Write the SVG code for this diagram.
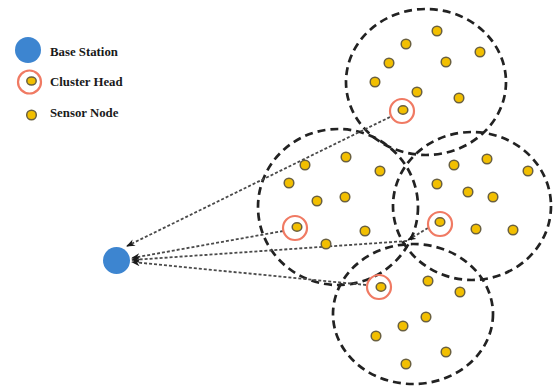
<svg xmlns="http://www.w3.org/2000/svg" width="559" height="390" viewBox="0 0 559 390">
  <defs>
    <marker id="arrow" viewBox="0 0 10 8" refX="9" refY="4" markerWidth="9" markerHeight="7" orient="auto" markerUnits="userSpaceOnUse">
      <path d="M0,0 L10,4 L0,8 L3,4 z" fill="#1a1a1a"/>
    </marker>
  </defs>
  <style>
    .cluster { fill: none; stroke: #222; stroke-width: 2.7; stroke-dasharray: 8 5; }
    .link { fill: none; stroke: #4a4a4a; stroke-width: 1.8; stroke-dasharray: 3 2; marker-end: url(#arrow); }
    .sensor { fill: #f2bf00; stroke: #6a6040; stroke-width: 1.5; }
    .ring { fill: none; stroke: #f07a63; stroke-width: 2.2; }
    .base { fill: #3d85d0; }
    .label { font-family: "Liberation Serif", "Times New Roman", serif; font-weight: bold; font-size: 12.8px; fill: #1a1a1a; }
  </style>

  <rect width="559" height="390" fill="#ffffff"/>

  <!-- legend -->
  <g id="legend">
    <circle class="base" cx="28" cy="50" r="13"/>
    <text class="label" x="50" y="56">Base Station</text>
    <circle class="ring" cx="29.5" cy="82" r="11.5"/>
    <ellipse class="sensor" cx="31.5" cy="81" rx="4.7" ry="4"/>
    <text class="label" x="50" y="86">Cluster Head</text>
    <circle class="sensor" cx="31.5" cy="115" r="4.8"/>
    <text class="label" x="50" y="117">Sensor Node</text>
  </g>

  <!-- cluster boundaries -->
  <g id="clusters">
    <ellipse id="cluster-top" class="cluster" cx="426" cy="82" rx="80" ry="73"/>
    <ellipse id="cluster-left" class="cluster" cx="338" cy="207" rx="80" ry="78"/>
    <ellipse id="cluster-right" class="cluster" cx="472" cy="206" rx="79" ry="74"/>
    <ellipse id="cluster-bottom" class="cluster" cx="413" cy="314" rx="80" ry="70"/>
  </g>

  <!-- links from cluster heads to the base station -->
  <g id="connectors">
    <path class="link" d="M390,117 L127,246"/>
    <path class="link" d="M283,231 L132,258"/>
    <path class="link" d="M428,228 L408,240"/>
    <path class="link" d="M407,241 L132,260"/>
    <path class="link" d="M366,285 L132,262"/>
  </g>

  <!-- base station -->
  <g id="base-station">
    <circle class="base" cx="116.5" cy="260.5" r="13.5"/>
  </g>

  <!-- cluster heads -->
  <g id="head-top">
    <circle class="ring" cx="402" cy="111" r="12"/>
    <ellipse class="sensor" cx="403" cy="110" rx="4.8" ry="4.2"/>
  </g>
  <g id="head-left">
    <circle class="ring" cx="295" cy="228" r="12"/>
    <ellipse class="sensor" cx="297" cy="227" rx="4.8" ry="4.2"/>
  </g>
  <g id="head-right">
    <circle class="ring" cx="440" cy="224" r="12"/>
    <ellipse class="sensor" cx="440" cy="222" rx="4.8" ry="4.2"/>
  </g>
  <g id="head-bottom">
    <circle class="ring" cx="379" cy="287" r="12"/>
    <ellipse class="sensor" cx="381" cy="287" rx="4.8" ry="4.2"/>
  </g>

  <!-- sensor nodes -->
  <g id="sensors-top">
    <circle class="sensor" cx="437" cy="31" r="4.8"/>
    <circle class="sensor" cx="406" cy="44" r="4.8"/>
    <circle class="sensor" cx="480" cy="52" r="4.8"/>
    <circle class="sensor" cx="389" cy="63" r="4.8"/>
    <circle class="sensor" cx="446" cy="62" r="4.8"/>
    <circle class="sensor" cx="375" cy="82" r="4.8"/>
    <circle class="sensor" cx="417" cy="92" r="4.8"/>
    <circle class="sensor" cx="459" cy="98" r="4.8"/>
  </g>
  <g id="sensors-left">
    <circle class="sensor" cx="346" cy="157" r="4.8"/>
    <circle class="sensor" cx="305" cy="165" r="4.8"/>
    <circle class="sensor" cx="380" cy="171" r="4.8"/>
    <circle class="sensor" cx="289" cy="183" r="4.8"/>
    <circle class="sensor" cx="317" cy="201" r="4.8"/>
    <circle class="sensor" cx="345" cy="197" r="4.8"/>
    <circle class="sensor" cx="365" cy="231" r="4.8"/>
    <circle class="sensor" cx="326" cy="244" r="4.8"/>
  </g>
  <g id="sensors-right">
    <circle class="sensor" cx="487" cy="159" r="4.8"/>
    <circle class="sensor" cx="454" cy="165" r="4.8"/>
    <circle class="sensor" cx="528" cy="171" r="4.8"/>
    <circle class="sensor" cx="437" cy="184" r="4.8"/>
    <circle class="sensor" cx="468" cy="192" r="4.8"/>
    <circle class="sensor" cx="493" cy="197" r="4.8"/>
    <circle class="sensor" cx="476" cy="229" r="4.8"/>
    <circle class="sensor" cx="513" cy="230" r="4.8"/>
  </g>
  <g id="sensors-bottom">
    <circle class="sensor" cx="428" cy="281" r="4.8"/>
    <circle class="sensor" cx="460" cy="292" r="4.8"/>
    <circle class="sensor" cx="426" cy="317" r="4.8"/>
    <circle class="sensor" cx="403" cy="326" r="4.8"/>
    <circle class="sensor" cx="376" cy="336" r="4.8"/>
    <circle class="sensor" cx="446" cy="352" r="4.8"/>
    <circle class="sensor" cx="406" cy="364" r="4.8"/>
  </g>
</svg>
